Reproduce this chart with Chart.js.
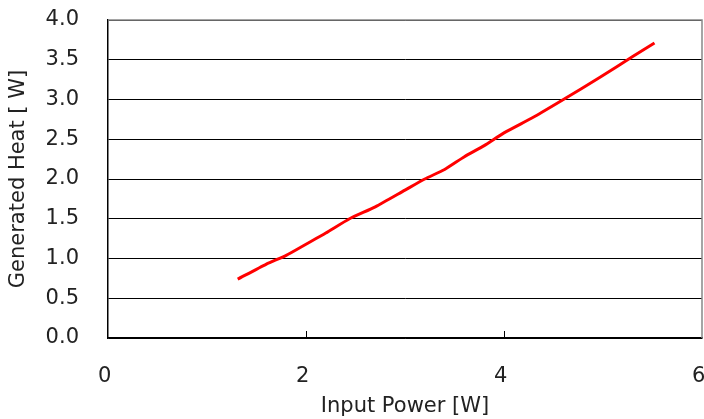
<!DOCTYPE html>
<html>
<head>
<meta charset="utf-8">
<script src="https://cdn.jsdelivr.net/npm/chart.js@4"></script>
<style>
  body { margin: 0; background: #fff; }
  #wrap { width: 704px; height: 419px; }
</style>
</head>
<body>
<div id="wrap"><canvas id="heatChart"></canvas></div>
<script>
// dữ liệu
const inputPower = [1.31, 1.6, 1.8, 2.0, 2.2, 2.44, 2.7, 3.0, 3.2, 3.4, 3.6, 3.8, 4.0, 4.3, 4.6, 4.97, 5.3, 5.52];
const generatedHeat = [0.74, 0.93, 1.04, 1.18, 1.32, 1.50, 1.65, 1.86, 2.0, 2.12, 2.28, 2.42, 2.58, 2.78, 3.0, 3.28, 3.54, 3.71];
const xTicks = [0, 2, 4, 6];
const yTicks = [0, 0.5, 1, 1.5, 2, 2.5, 3, 3.5, 4];

const font = "'DejaVu Sans', sans-serif";
const textColor = "#222";

// viền trên/phải và vạch chia nhỏ bên trong
const framePlugin = {
    id: "frame",
    afterDraw(chart) {
        const { ctx, chartArea: a, scales } = chart;
        ctx.save();
        ctx.strokeStyle = "#888";
        ctx.lineWidth = 1.5;
        ctx.beginPath();
        ctx.moveTo(a.left, a.top);
        ctx.lineTo(a.right, a.top);
        ctx.lineTo(a.right, a.bottom);
        ctx.stroke();
        ctx.strokeStyle = "#000";
        ctx.lineWidth = 1;
        ctx.beginPath();
        xTicks.slice(1, -1).forEach(function (v) {
            const px = Math.round(scales.x.getPixelForValue(v)) + 0.5;
            ctx.moveTo(px, a.bottom);
            ctx.lineTo(px, a.bottom - 7);
        });
        ctx.stroke();
        ctx.restore();
    },
};

const myChart = new Chart(document.getElementById("heatChart"), {
    type: "scatter",
    data: {
        datasets: [
            {
                data: inputPower.map((x, i) => ({ x: x, y: generatedHeat[i] })),
                showLine: true,
                borderColor: "#ff0000",
                borderWidth: 3,
                pointRadius: 0,
                tension: 0.2,
            },
        ],
    },
    options: {
        responsive: true,
        maintainAspectRatio: false,
        animation: false,
        layout: { padding: { top: 20, right: 2, left: 0, bottom: 0 } },
        plugins: { legend: { display: false }, tooltip: { enabled: false } },
        scales: {
            x: {
                type: "linear",
                min: 0,
                max: 6,
                afterBuildTicks: (s) => { s.ticks = xTicks.map((v) => ({ value: v })); },
                afterFit: (s) => { s.height = 81; s.paddingLeft = 0; s.paddingRight = 0; },
                grid: { display: false },
                border: { display: true, color: "#000", width: 1.5 },
                ticks: {
                    padding: 18,
                    color: textColor,
                    font: { family: font, size: 21 },
                    callback: (v) => v + " ", // nhãn lệch trái một chút như hình gốc
                },
                title: {
                    display: true,
                    text: "Input Power [W]",
                    color: textColor,
                    font: { family: font, size: 21 },
                    padding: { top: 0, bottom: 0 },
                },
            },
            y: {
                type: "linear",
                min: 0,
                max: 4,
                afterBuildTicks: (s) => { s.ticks = yTicks.map((v) => ({ value: v })); },
                afterFit: (s) => { s.width = 108; s.paddingTop = 0; s.paddingBottom = 0; },
                grid: { color: "#000", lineWidth: 1, drawTicks: false },
                border: { display: true, color: "#000", width: 1.5 },
                ticks: {
                    padding: 29,
                    color: textColor,
                    font: { family: font, size: 21 },
                    callback: (v) => v.toFixed(1),
                },
                title: {
                    display: true,
                    text: "Generated Heat [ W]",
                    color: textColor,
                    font: { family: font, size: 21 },
                    padding: { top: 6, bottom: 0 },
                },
            },
        },
    },
    plugins: [framePlugin],
});
</script>
</body>
</html>
